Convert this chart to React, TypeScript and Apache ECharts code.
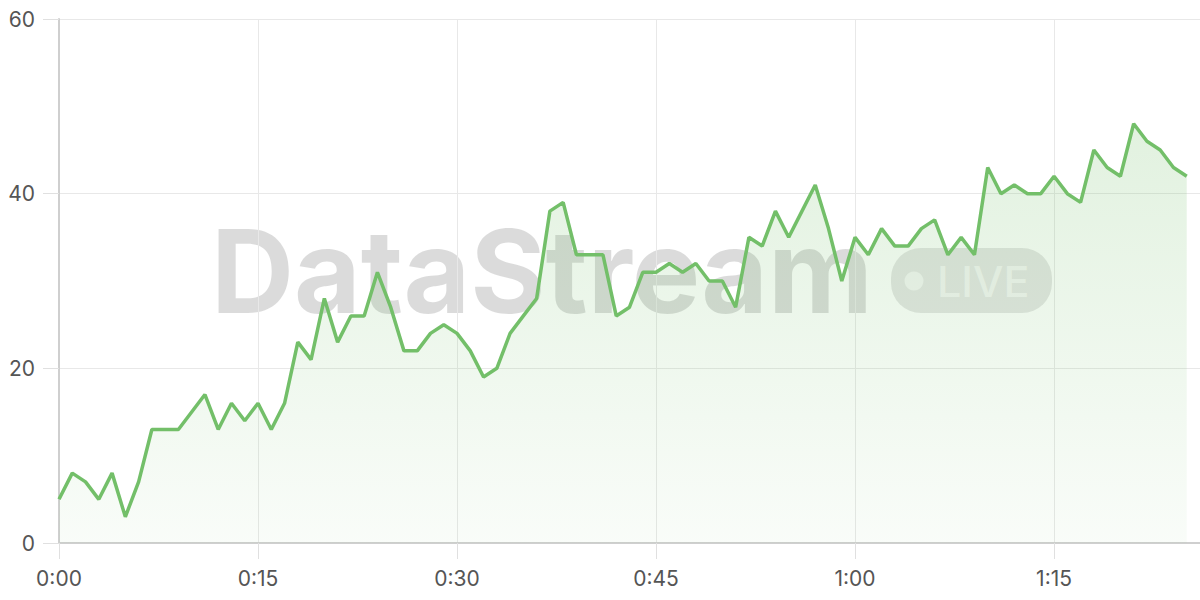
import React, { useEffect, useRef } from "react";
import * as echarts from "echarts";

const minutes: number[] = Array.from({ length: 86 }, (_, i) => i);
const values: number[] = [
  5, 8, 7, 5, 8, 3, 7, 13, 13, 13, 15, 17, 13, 16, 14, 16, 13, 16, 23, 21,
  28, 23, 26, 26, 31, 27, 22, 22, 24, 25, 24, 22, 19, 20, 24, 26, 28, 38, 39, 33,
  33, 33, 26, 27, 31, 31, 32, 31, 32, 30, 30, 27, 35, 34, 38, 35, 38, 41, 36, 30,
  35, 33, 36, 34, 34, 36, 37, 33, 35, 33, 43, 40, 41, 40, 40, 42, 40, 39, 45, 43,
  42, 48, 46, 45, 43, 42,
];
const yTicks: number[] = [0, 20, 40, 60];

const fmtTime = (v: number) => {
  if (v % 15 !== 0) return "";
  const h = Math.floor(v / 60);
  const m = v % 60;
  return `${h}:${m < 10 ? "0" + m : m}`;
};

export default function App() {
  const ref = useRef<HTMLDivElement>(null);
  useEffect(() => {
    if (!ref.current) return;
    const chart = echarts.init(ref.current, undefined, { renderer: "svg" });
    const green = "#73BF69";
    const labelStyle = { color: "#555", fontSize: 21, fontFamily: "Inter" };
    chart.setOption({
      animation: false,
      grid: { left: 59, right: 0, top: 19, bottom: 57, containLabel: false },
      graphic: [
        {
          type: "text",
          z: -10,
          x: 211,
          y: 271,
          style: {
            text: "DataStream",
            font: "bold 115px Inter",
            fill: "rgba(0,0,0,0.14)",
            verticalAlign: "middle",
            align: "left",
          },
        },
        {
          type: "rect",
          z: -10,
          shape: { x: 891, y: 248, width: 161, height: 65, r: 30 },
          style: { fill: "rgba(0,0,0,0.1)" },
        },
        {
          type: "circle",
          z: -9,
          shape: { cx: 914, cy: 281, r: 9.5 },
          style: { fill: "rgba(255,255,255,0.6)" },
        },
        {
          type: "text",
          z: -9,
          x: 937,
          y: 281,
          style: {
            text: "LIVE",
            font: "500 43px Inter",
            fill: "rgba(255,255,255,0.6)",
            verticalAlign: "middle",
            align: "left",
          },
        },
      ],
      xAxis: {
        type: "value",
        min: 0,
        max: 86,
        interval: 15,
        axisLine: { show: true, lineStyle: { color: "#cfcfcf", width: 2 } },
        axisTick: { show: true, inside: false, length: 16, lineStyle: { color: "#e0e0e0", width: 1 } },
        splitLine: { show: true, lineStyle: { color: "#e8e8e8", width: 1 } },
        axisLabel: {
          ...labelStyle,
          margin: 25,
          formatter: (v: number) => fmtTime(v),
          showMaxLabel: false,
        },
      },
      yAxis: {
        type: "value",
        min: yTicks[0],
        max: yTicks[yTicks.length - 1],
        interval: 20,
        axisLine: { show: true, lineStyle: { color: "#cfcfcf", width: 2 } },
        axisTick: { show: true, inside: false, length: 16, lineStyle: { color: "#e0e0e0", width: 1 } },
        splitLine: { show: true, lineStyle: { color: "#e8e8e8", width: 1 } },
        axisLabel: { ...labelStyle, margin: 24 },
      },
      series: [
        {
          type: "line",
          data: minutes.map((m, i) => [m, values[i]]),
          symbol: "none",
          smooth: false,
          lineStyle: { color: green, width: 3.5 },
          areaStyle: {
            color: new echarts.graphic.LinearGradient(0, 0, 0, 1, [
              { offset: 0, color: "rgba(115,191,105,0.3)" },
              { offset: 1, color: "rgba(115,191,105,0.06)" },
            ]),
          },
          z: 2,
        },
      ],
    });
    return () => chart.dispose();
  }, []);
  return (
    <div
      ref={ref}
      style={{ width: 1200, height: 600, position: "absolute", left: 0, top: 0 }}
    />
  );
}
